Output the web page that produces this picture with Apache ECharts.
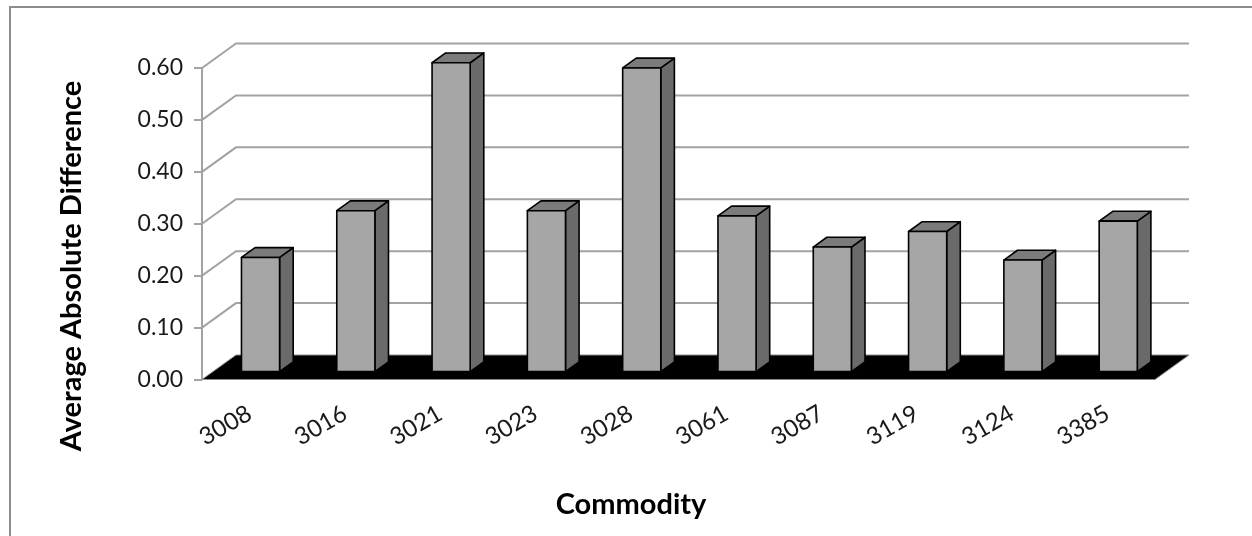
<!DOCTYPE html>
<html>
<head>
<meta charset="utf-8">
<script src="https://cdn.jsdelivr.net/npm/echarts@6/dist/echarts.min.js"></script>
<style>
  html, body { margin: 0; padding: 0; background: #fff; }
  #chart { width: 1252px; height: 536px; }
</style>
</head>
<body>
<div id="chart"></div>
<script>
// Commodity codes along the floor of the 3-D column chart
const commodities = ['3008', '3016', '3021', '3023', '3028', '3061', '3087', '3119', '3124', '3385'];
// Average absolute difference per commodity
const avgAbsDiff = [0.22, 0.31, 0.595, 0.31, 0.585, 0.30, 0.24, 0.27, 0.215, 0.29];
// Value axis ticks (back-wall gridlines are drawn at each of these)
const yTicks = [0, 0.1, 0.2, 0.3, 0.4, 0.5, 0.6];

// Oblique projection of the depth direction (pixels from front plane to back wall)
const DEPTH_X = 34;
const DEPTH_Y = -24.5;
// Column placement inside the depth, as fractions of the full depth
const BAR_FRONT = 0.32;
const BAR_BACK = 0.72;
const BAR_WIDTH_RATIO = 0.4;

const FONT = 'Lato, "Open Sans", sans-serif';
const GRID_COLOR = '#a3a3a3';
const FACE_FRONT = '#a6a6a6';
const FACE_TOP = '#7b7b7b';
const FACE_SIDE = '#6a6a6a';

const chart = echarts.init(document.getElementById('chart'), null, { renderer: 'canvas' });

// Back wall: a diagonal from each value tick on the front axis, then a horizontal line across the wall
function renderWall(params, api) {
  const cs = params.coordSys;
  const v = api.value(1);
  const y = api.coord([0, v])[1];
  return {
    type: 'polyline',
    shape: { points: [[cs.x, y], [cs.x + DEPTH_X, y + DEPTH_Y], [cs.x + cs.width + DEPTH_X, y + DEPTH_Y]] },
    style: { stroke: GRID_COLOR, lineWidth: 2, fill: null }
  };
}

// Floor: black parallelogram at value 0
function renderFloor(params, api) {
  const cs = params.coordSys;
  const y0 = api.coord([0, 0])[1];
  return {
    type: 'polygon',
    shape: { points: [
      [cs.x, y0], [cs.x + cs.width, y0],
      [cs.x + cs.width + DEPTH_X, y0 + DEPTH_Y], [cs.x + DEPTH_X, y0 + DEPTH_Y]
    ] },
    style: { fill: '#000', stroke: '#8a8a8a', lineWidth: 1 }
  };
}

// Columns: front face, top face and right side face
function renderBar(params, api) {
  const i = api.value(0);
  const v = api.value(1);
  const top = api.coord([i, v]);
  const base = api.coord([i, 0]);
  const band = api.size([1, 0])[0];
  const w = band * BAR_WIDTH_RATIO;
  const fx = DEPTH_X * BAR_FRONT, fy = DEPTH_Y * BAR_FRONT;
  const dx = DEPTH_X * (BAR_BACK - BAR_FRONT), dy = DEPTH_Y * (BAR_BACK - BAR_FRONT);
  const x0 = top[0] - w / 2 + fx, x1 = x0 + w;
  const yT = top[1] + fy, yB = base[1] + fy;
  const edge = { stroke: '#000', lineWidth: 1.6, lineJoin: 'round' };
  return {
    type: 'group',
    children: [
      { type: 'polygon', shape: { points: [[x1, yT], [x1 + dx, yT + dy], [x1 + dx, yB + dy], [x1, yB]] },
        style: Object.assign({ fill: FACE_SIDE }, edge) },
      { type: 'polygon', shape: { points: [[x0, yT], [x1, yT], [x1 + dx, yT + dy], [x0 + dx, yT + dy]] },
        style: Object.assign({ fill: FACE_TOP }, edge) },
      { type: 'rect', shape: { x: x0, y: yT, width: w, height: yB - yT },
        style: Object.assign({ fill: FACE_FRONT }, edge) }
    ]
  };
}

const option = {
  animation: false,
  backgroundColor: '#fff',
  graphic: [
    {
      type: 'rect',
      shape: { x: 10, y: 7, width: 1400, height: 700 },
      style: { fill: null, stroke: '#8c8c8c', lineWidth: 2 },
      silent: true
    },
    {
      // Value axis title, vertical
      type: 'text',
      x: 72, y: 266,
      rotation: Math.PI / 2,
      style: {
        text: 'Average Absolute Difference',
        align: 'center', verticalAlign: 'middle',
        fontFamily: FONT, fontSize: 29, fontWeight: 'bold', fill: '#000'
      },
      silent: true
    },
    {
      // Category axis title
      type: 'text',
      x: 631, y: 505,
      style: {
        text: 'Commodity',
        align: 'center', verticalAlign: 'middle',
        fontFamily: FONT, fontSize: 29, fontWeight: 'bold', fill: '#000'
      },
      silent: true
    }
  ],
  grid: { left: 202, right: 97, top: 68, bottom: 156.5, containLabel: false },
  xAxis: {
    type: 'category',
    data: commodities,
    boundaryGap: true,
    axisLine: { show: false },
    axisTick: { show: false },
    splitLine: { show: false },
    axisLabel: {
      rotate: 30, margin: 32, interval: 0,
      fontFamily: FONT, fontSize: 24, color: '#1a1a1a'
    }
  },
  yAxis: {
    type: 'value',
    min: 0, max: 0.6, interval: 0.1,
    axisLine: { show: true, lineStyle: { color: GRID_COLOR, width: 2 } },
    axisTick: { show: true, length: 8, lineStyle: { color: GRID_COLOR, width: 2 } },
    splitLine: { show: false },
    axisLabel: {
      margin: 19,
      formatter: v => v.toFixed(2),
      fontFamily: FONT, fontSize: 23, color: '#1a1a1a'
    }
  },
  series: [
    {
      type: 'custom', name: 'wall', z: 1, silent: true,
      renderItem: renderWall,
      encode: { x: 0, y: 1 },
      data: yTicks.filter(t => t > 0).map(t => [0, t])
    },
    {
      type: 'custom', name: 'floor', z: 2, silent: true,
      renderItem: renderFloor,
      encode: { x: 0, y: 1 },
      data: [[0, 0]]
    },
    {
      type: 'custom', name: 'Average Absolute Difference', z: 3,
      renderItem: renderBar,
      encode: { x: 0, y: 1 },
      data: avgAbsDiff.map((v, i) => [i, v])
    }
  ]
};

chart.setOption(option);
</script>
</body>
</html>
